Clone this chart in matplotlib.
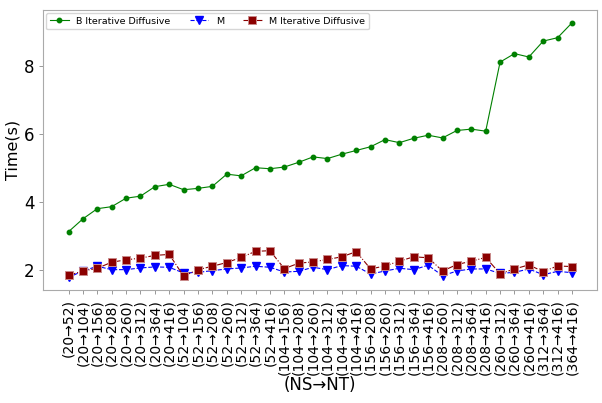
import matplotlib
matplotlib.use("Agg")
import matplotlib.pyplot as plt

# sizes (NS -> NT pairs)
sizes = [20, 52, 104, 156, 208, 260, 312, 364, 416]
labels = ["(%d→%d)" % (a, b) for i, a in enumerate(sizes) for b in sizes[i + 1:]]

b_iter_diff = [3.12, 3.50, 3.80, 3.86, 4.11, 4.17, 4.45, 4.52, 4.36, 4.40,
               4.46, 4.82, 4.77, 5.01, 4.98, 5.03, 5.17, 5.33, 5.28, 5.41,
               5.52, 5.63, 5.84, 5.75, 5.88, 5.97, 5.89, 6.11, 6.15, 6.09,
               8.13, 8.38, 8.28, 8.75, 8.85, 9.29]
m = [1.77, 1.96, 2.10, 2.00, 2.00, 2.05, 2.08, 2.07, 1.90, 1.92,
     1.97, 2.02, 2.05, 2.10, 2.07, 1.93, 1.95, 2.07, 2.00, 2.12,
     2.10, 1.87, 1.96, 2.04, 2.00, 2.13, 1.82, 1.96, 2.02, 2.02,
     1.89, 1.92, 2.02, 1.85, 1.95, 1.91]
m_iter_diff = [1.83, 1.96, 2.04, 2.22, 2.29, 2.34, 2.42, 2.45, 1.81, 2.00,
               2.10, 2.21, 2.36, 2.54, 2.56, 2.03, 2.19, 2.23, 2.30, 2.38,
               2.53, 2.02, 2.11, 2.25, 2.38, 2.35, 1.96, 2.15, 2.25, 2.36,
               1.88, 2.02, 2.14, 1.94, 2.11, 2.09]

x = range(len(labels))

fig, ax = plt.subplots(figsize=(6.02, 4.03), dpi=100)
fig.subplots_adjust(left=0.072, right=0.992, top=0.975, bottom=0.28)

ax.plot(x, b_iter_diff, '-o', color='green', lw=0.8, ms=3.2, label='B Iterative Diffusive')
ax.plot(x, m, '--v', color='blue', lw=0.8, ms=6, label='M')
ax.plot(x, m_iter_diff, '-.s', color='darkred', lw=0.8, ms=6, mec='#c98a8a', mew=0.7,
        label='M Iterative Diffusive')

ax.set_xticks(list(x))
ax.set_xticklabels(labels, rotation=90, fontsize=10.1)
ax.tick_params(axis='y', labelsize=12)
ax.tick_params(colors='#888888', labelcolor='black', length=3, width=0.6)
ax.set_xlabel('(NS→NT)', fontsize=12, labelpad=1)
ax.set_ylabel('Time(s)', fontsize=11.5, labelpad=2)
for s in ax.spines.values():
    s.set_color('#aaaaaa')

ax.legend(loc='upper left', ncol=3, fontsize=6.8, borderaxespad=0.3)

fig.savefig('out.png', dpi=100)
